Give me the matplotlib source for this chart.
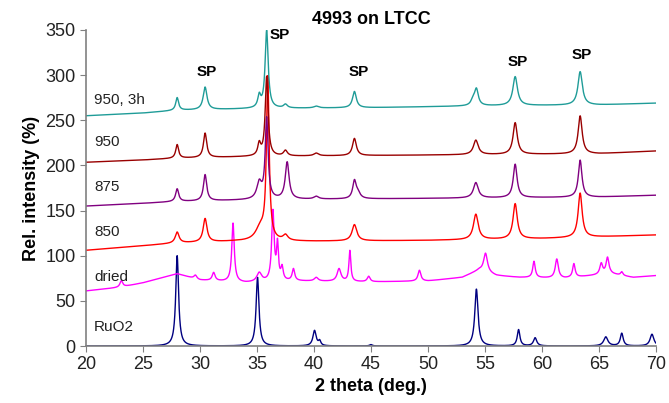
import numpy as np
import matplotlib
matplotlib.use("Agg")
import matplotlib.pyplot as plt

plt.rcParams["font.family"] = ["Liberation Sans", "DejaVu Sans"]

# ---- data (2 theta in deg, intensity in %) ----
# baseline anchor points for each pattern
base_teal_x = [20, 25, 28, 35, 45, 55, 65, 70]
base_teal_y = [255, 258, 261, 263, 264, 266, 267, 269]
base_dred_x = [20, 25, 28, 35, 45, 55, 65, 70]
base_dred_y = [203.5, 206, 208, 210, 211, 212, 213, 216]
base_purp_x = [20, 25, 28, 35, 45, 55, 65, 70]
base_purp_y = [155, 158, 160, 162, 163, 164, 165, 167]
base_red_x = [20, 24, 28, 33, 40, 50, 60, 70]
base_red_y = [106, 110, 114, 116, 116, 117, 119, 123]
base_mag_x = [20, 23, 25, 28, 30, 34, 38, 45, 50, 53, 54.5, 56, 58, 62, 66, 68, 70]
base_mag_y = [61, 65, 70, 80, 73, 70, 72, 71, 72, 76, 84, 78, 76, 75, 80, 76, 78]
base_ruo_x = [20, 70]
base_ruo_y = [0, 0]

# peaks: position, height above baseline, half width
pk_teal_pos = [28.0, 30.45, 35.2, 35.85, 37.5, 40.2, 43.55, 53.95, 54.25, 57.65, 63.35]
pk_teal_amp = [14, 25, 13, 86, 4, 2, 18, 6, 18, 32, 37]
pk_teal_hw = [0.15, 0.2, 0.15, 0.16, 0.2, 0.25, 0.2, 0.2, 0.2, 0.24, 0.23]

pk_dred_pos = [28.0, 30.45, 35.2, 35.85, 37.5, 40.2, 43.55, 54.2, 57.65, 63.35]
pk_dred_amp = [15, 27, 13, 88, 6, 3, 19, 16, 35, 42]
pk_dred_hw = [0.15, 0.17, 0.15, 0.15, 0.2, 0.25, 0.2, 0.25, 0.22, 0.21]

pk_purp_pos = [28.0, 30.45, 35.2, 35.85, 37.65, 40.2, 43.55, 43.85, 54.2, 57.65, 63.35]
pk_purp_amp = [14, 29, 18, 89, 41, 3, 19, 6, 17, 37, 41]
pk_purp_hw = [0.16, 0.17, 0.25, 0.15, 0.2, 0.25, 0.18, 0.25, 0.25, 0.2, 0.19]

pk_red_pos = [28.0, 30.45, 35.3, 35.95, 37.5, 43.55, 54.2, 57.65, 63.35]
pk_red_amp = [12, 26, 14, 178, 6, 18, 28, 39, 49]
pk_red_hw = [0.2, 0.2, 0.5, 0.14, 0.25, 0.25, 0.25, 0.22, 0.21]

pk_mag_pos = [23.1, 29.6, 31.2, 32.9, 35.2, 36.4, 36.8, 37.2, 38.2, 40.2,
              42.2, 43.15, 44.8, 49.25, 55.05, 59.3, 61.3, 62.8, 65.2, 65.75, 67.0]
pk_mag_amp = [7, 4, 9, 65, 10, 77, 39, 14, 13, 4, 14, 34, 6, 12, 21, 18, 21, 15, 12, 18, 4]
pk_mag_hw = [0.15, 0.15, 0.15, 0.13, 0.25, 0.13, 0.1, 0.12, 0.13, 0.2,
             0.2, 0.1, 0.15, 0.15, 0.2, 0.13, 0.16, 0.13, 0.15, 0.15, 0.12]

pk_ruo_pos = [28.0, 35.05, 40.05, 40.5, 45.0, 54.25, 57.95, 59.4, 65.6, 67.0, 69.65]
pk_ruo_amp = [100, 76, 17, 5, 1.5, 63, 18, 9, 10, 14, 13]
pk_ruo_hw = [0.15, 0.15, 0.17, 0.12, 0.15, 0.17, 0.14, 0.17, 0.22, 0.15, 0.2]

labels = ["950, 3h", "950", "875", "850", "dried", "RuO2"]
label_y = [272, 226, 176, 126, 76, 21]

sp_x = [30.6, 37.0, 43.9, 57.9, 63.5]
sp_y = [303, 344, 303, 315, 322]


def pattern(x, bx, by, pos, amp, hw):
    y = np.interp(x, bx, by)
    for p, a, w in zip(pos, amp, hw):
        y = y + a / (1 + ((x - p) / w) ** 2)
    return y


x = np.linspace(20, 70, 5001)
series = [
    ("#000080", base_ruo_x, base_ruo_y, pk_ruo_pos, pk_ruo_amp, pk_ruo_hw),
    ("#ff00ff", base_mag_x, base_mag_y, pk_mag_pos, pk_mag_amp, pk_mag_hw),
    ("#ff0000", base_red_x, base_red_y, pk_red_pos, pk_red_amp, pk_red_hw),
    ("#800080", base_purp_x, base_purp_y, pk_purp_pos, pk_purp_amp, pk_purp_hw),
    ("#990000", base_dred_x, base_dred_y, pk_dred_pos, pk_dred_amp, pk_dred_hw),
    ("#1f9c98", base_teal_x, base_teal_y, pk_teal_pos, pk_teal_amp, pk_teal_hw),
]

fig = plt.figure(figsize=(6.69, 4.03), dpi=100)
ax = fig.add_axes([0.1285, 0.1414, 0.852, 0.7842])

for color, bx, by, pos, amp, hw in series:
    ax.plot(x, pattern(x, bx, by, pos, amp, hw), color=color, lw=1.0)

for lab, ly in zip(labels, label_y):
    ax.text(20.7, ly, lab, fontsize=11, va="center", ha="left", color="#222222")

for sx, sy in zip(sp_x, sp_y):
    ax.text(sx, sy, "SP", fontsize=11, fontweight="bold", ha="center", va="center")

ax.set_xlim(20, 70)
ax.set_ylim(0, 350)
ax.set_xticks(np.arange(20, 71, 5))
ax.set_yticks(np.arange(0, 351, 50))
for s in ["top", "right"]:
    ax.spines[s].set_visible(False)
for s in ["left", "bottom"]:
    ax.spines[s].set_color("#808080")
    ax.spines[s].set_linewidth(1.2)
ax.tick_params(axis="both", direction="out", length=4, color="#808080",
               labelsize=13, labelcolor="#222222")

ax.set_xlabel("2 theta (deg.)", fontsize=13, fontweight="bold", labelpad=3)
ax.set_ylabel("Rel. intensity (%)", fontsize=13, fontweight="bold", labelpad=4)
ax.set_title("4993 on LTCC", fontsize=13, fontweight="bold", pad=4)

fig.savefig("out.png", dpi=100)
